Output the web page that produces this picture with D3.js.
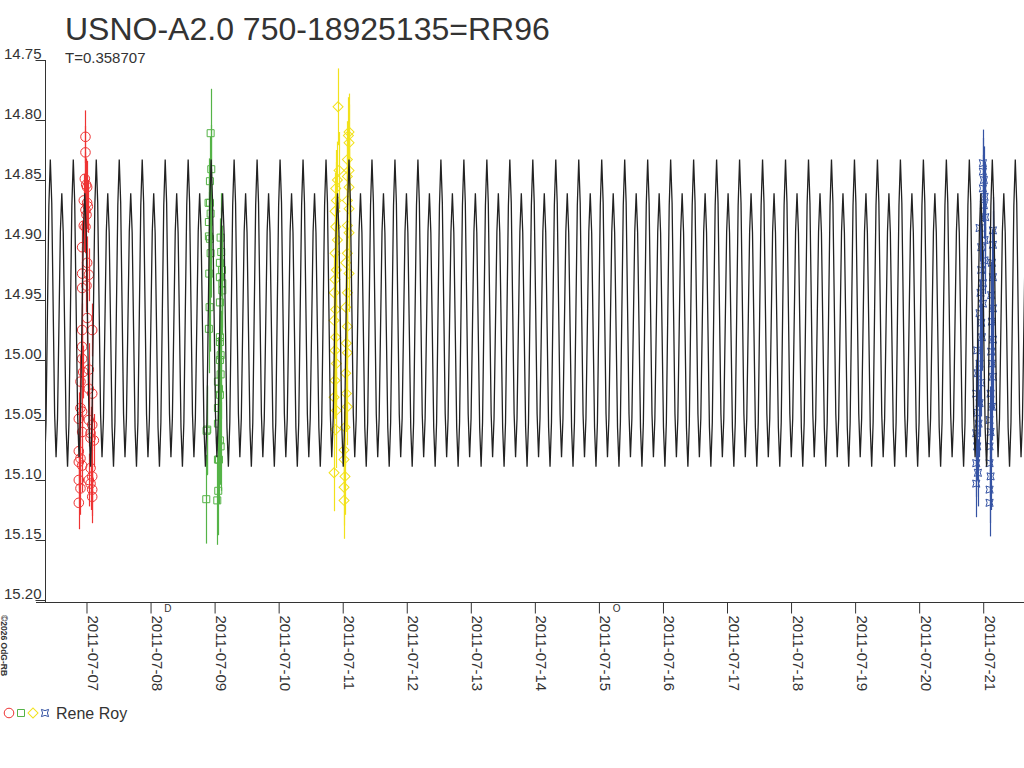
<!DOCTYPE html>
<html>
<head>
<meta charset="utf-8">
<script src="https://cdn.jsdelivr.net/npm/d3@7"></script>
<style>
  body { margin: 0; background: #fff; }
  svg { display: block; }
  text { font-family: "Liberation Sans", Arial, sans-serif; fill: #333; }
</style>
</head>
<body>
<svg id="chart" width="1024" height="768"></svg>
<script>
// ---- data ----
const title = 'USNO-A2.0 750-18925135=RR96';
const period = 0.358707;                 // days
const epochMin = '2011-07-12T02:02:00Z'; // a primary minimum
// one period of the light curve, 16 phase steps
const templateMags = [15.089, 15.052, 14.961, 14.871, 14.833, 14.869, 14.957, 15.045,
                      15.081, 15.049, 14.971, 14.893, 14.861, 14.894, 14.975, 15.056];

const viewStart = '2011-07-06T08:27:00Z';
const viewEnd = '2011-07-21T15:17:00Z';
const dayTicks = ['2011-07-07', '2011-07-08', '2011-07-09', '2011-07-10', '2011-07-11',
                  '2011-07-12', '2011-07-13', '2011-07-14', '2011-07-15', '2011-07-16',
                  '2011-07-17', '2011-07-18', '2011-07-19', '2011-07-20', '2011-07-21'];
const magTicks = [14.75, 14.80, 14.85, 14.90, 14.95, 15.00, 15.05, 15.10, 15.15, 15.20];
const moonDates = ['2011-07-08T06:29:00Z', '2011-07-15T06:40:00Z'];
const moonGlyphs = ['D', 'O'];

// observations, days after 2011-07-07 00:00 UT
const obsBase = '2011-07-07T00:00:00Z';
const redDays = [-0.016, -0.016, -0.026, -0.005, 0.010, -0.042, 0.010, 0.021, -0.016, 0.000,
  -0.042, -0.016, -0.068, 0.010, -0.068, 0.036, -0.068, 0.000, 0.010, 0.089, -0.068, -0.068,
  -0.068, -0.052, 0.036, -0.094, 0.036, 0.089, -0.094, -0.068, -0.120, 0.036, 0.089, -0.068,
  0.063, 0.063, 0.115, -0.120, -0.094, -0.120, -0.068, 0.063, 0.089, 0.036, -0.120, 0.063,
  0.089, -0.094, 0.089, -0.120];
const redMags = [14.814, 14.827, 14.849, 14.854, 14.856, 14.867, 14.869, 14.872, 14.875, 14.879,
  14.888, 14.889, 14.906, 14.919, 14.928, 14.929, 14.940, 14.938, 14.965, 14.975, 14.975, 14.989,
  14.999, 15.010, 15.008, 15.018, 15.024, 15.028, 15.040, 15.043, 15.049, 15.050, 15.054, 15.060,
  15.061, 15.065, 15.067, 15.076, 15.082, 15.085, 15.088, 15.090, 15.097, 15.100, 15.100, 15.103,
  15.108, 15.107, 15.114, 15.119];
const redErr = 0.022;

const greenDays = [1.938, 1.948, 1.927, 1.927, 1.906, 1.938, 1.911, 1.911, 1.927, 1.938, 1.917,
  1.922, 1.911, 1.875, 1.885, 1.870,
  2.094, 2.104, 2.083, 2.115, 2.083, 2.120, 2.120, 2.083, 2.083, 2.083, 2.094, 2.083, 2.094,
  2.052, 2.068, 2.083, 2.052, 2.052, 2.083, 2.094, 2.052, 2.068, 2.057, 2.042];
const greenMags = [14.811, 14.841, 14.851, 14.869, 14.869, 14.878, 14.885, 14.897, 14.899, 14.911,
  14.928, 14.956, 14.974, 15.059, 15.058, 15.116,
  14.898, 14.910, 14.919, 14.925, 14.931, 14.936, 14.942, 14.952, 14.981, 14.985, 14.996, 15.000,
  15.012, 15.018, 15.024, 15.029, 15.040, 15.053, 15.067, 15.072, 15.083, 15.083, 15.109, 15.117];
const greenErr = 0.037;

const yellowDays = [3.927,
  4.099, 4.089, 4.099, 4.073, 4.099, 4.073, 4.099, 4.073, 4.099, 4.073, 4.099, 4.073, 4.047, 4.099,
  4.073, 4.047, 4.073, 4.057, 4.073, 4.047, 4.057, 4.073, 4.036, 4.021, 4.021, 4.036, 4.021, 4.021,
  3.943, 3.917, 3.891, 3.901, 3.880, 3.891, 3.917, 3.880, 3.901, 3.880, 3.865, 3.891, 3.865, 3.891,
  3.880, 3.901, 3.880, 3.865, 3.901, 3.891, 3.865];
const yellowMags = [14.789,
  14.810, 14.813, 14.819, 14.833, 14.842, 14.847, 14.856, 14.867, 14.874, 14.888, 14.894, 14.911,
  14.919, 14.928, 14.944, 14.956, 14.972, 14.986, 14.994, 15.011, 15.028, 15.039, 15.056, 15.075,
  15.083, 15.097, 15.106, 15.117,
  14.842, 14.850, 14.857, 14.867, 14.876, 14.889, 14.900, 14.911, 14.925, 14.933, 14.944, 14.958,
  14.967, 14.981, 14.992, 15.003, 15.017, 15.031, 15.042, 15.058, 15.094];
const yellowErr = 0.032;

const blueDays = [13.995, 13.995, 14.010, 13.995, 14.021, 14.010, 14.031, 13.943, 14.021, 13.969,
  14.021, 13.969, 13.995, 13.958, 13.995, 13.943, 13.969, 13.979, 13.906, 13.943, 13.917, 13.969,
  13.891, 13.943, 13.906, 13.927, 13.891, 13.906, 13.891, 13.917, 13.891,
  14.151, 14.151, 14.135, 14.151, 14.125, 14.151, 14.135, 14.151, 14.125, 14.135, 14.151, 14.115,
  14.135, 14.099, 14.115, 14.099, 14.099, 14.115, 14.099, 14.099];
const blueMags = [14.836, 14.843, 14.850, 14.857, 14.864, 14.871, 14.881, 14.890, 14.900, 14.906,
  14.917, 14.925, 14.936, 14.944, 14.953, 14.961, 14.969, 14.981, 14.992, 15.003, 15.011, 15.019,
  15.028, 15.036, 15.044, 15.053, 15.061, 15.072, 15.086, 15.094, 15.103,
  14.892, 14.904, 14.919, 14.931, 14.946, 14.957, 14.968, 14.983, 14.993, 15.003, 15.014, 15.028,
  15.039, 15.050, 15.060, 15.072, 15.086, 15.097, 15.108, 15.119];
const blueErr = 0.028;

const observer = 'Rene Roy';
const credit = '\u00a92026 OdG-RB';

// ---- drawing ----
const DAY = 86400000;
const svg = d3.select('#chart');

const x = d3.scaleUtc()
  .domain([new Date(viewStart), new Date(viewEnd)])
  .range([45, 1024]);
const y = d3.scaleLinear()
  .domain([14.75, 15.20])
  .range([60, 600]);

const base = Date.parse(obsBase);
const toDate = (d) => new Date(base + d * DAY);

// marker shapes
const circlePath = d3.symbol(d3.symbolCircle, 72)();
const squarePath = d3.symbol(d3.symbolSquare, 49)();
const diamondPath = d3.symbol(d3.symbolSquare, 50)();
const h = 3.6;
const starPath = `M${-h},${-h}Q0,${-h / 3} ${h},${-h}Q${h / 3},0 ${h},${h}` +
  `Q0,${h / 3} ${-h},${h}Q${-h / 3},0 ${-h},${-h}Z`;

const series = [
  {days: redDays, mags: redMags, err: redErr, color: '#ee3333', path: circlePath, rot: 0},
  {days: greenDays, mags: greenMags, err: greenErr, color: '#55b347', path: squarePath, rot: 0},
  {days: yellowDays, mags: yellowMags, err: yellowErr, color: '#f2e21c', path: diamondPath, rot: 45},
  {days: blueDays, mags: blueMags, err: blueErr, color: '#3553a3', path: starPath, rot: 0}
];

// error bars + markers
series.forEach((s) => {
  const pts = s.days.map((d, i) => ({t: toDate(d), m: s.mags[i]}));
  const g = svg.append('g').attr('class', 'obs');

  g.selectAll('line.err')
    .data(pts)
    .enter().append('line')
    .attr('class', 'err')
    .attr('x1', (d) => Math.round(x(d.t)) + 0.5)
    .attr('x2', (d) => Math.round(x(d.t)) + 0.5)
    .attr('y1', (d) => y(d.m - s.err))
    .attr('y2', (d) => y(d.m + s.err))
    .attr('stroke', s.color)
    .attr('stroke-width', 1.2);

  g.selectAll('path.mark')
    .data(pts)
    .enter().append('path')
    .attr('class', 'mark')
    .attr('d', s.path)
    .attr('transform', (d) => `translate(${x(d.t)},${y(d.m)}) rotate(${s.rot})`)
    .attr('fill', 'none')
    .attr('stroke', s.color)
    .attr('stroke-width', 1);
});

// light curve: template repeated with the period
const step = period / templateMags.length * DAY;
const epoch = Date.parse(epochMin);
const i0 = Math.floor((Date.parse(viewStart) - epoch) / step);
const i1 = Math.ceil((Date.parse(viewEnd) - epoch) / step);
const curve = d3.range(i0, i1 + 1).map((i) => {
  const k = ((i % templateMags.length) + templateMags.length) % templateMags.length;
  return {t: new Date(epoch + i * step), m: templateMags[k]};
});

svg.append('defs').append('clipPath').attr('id', 'plot')
  .append('rect').attr('x', 46).attr('y', 0).attr('width', 978).attr('height', 602);

svg.append('path')
  .datum(curve)
  .attr('clip-path', 'url(#plot)')
  .attr('fill', 'none')
  .attr('stroke', '#222')
  .attr('stroke-width', 1.3)
  .attr('d', d3.line().x((d) => x(d.t)).y((d) => y(d.m)));

// y axis
const yAxis = d3.axisLeft(y)
  .tickValues(magTicks)
  .tickSize(10)
  .tickSizeOuter(0)
  .tickFormat(d3.format('.2f'));

const yg = svg.append('g')
  .attr('transform', 'translate(45.5,0)')
  .call(yAxis);
yg.select('.domain').remove();
yg.selectAll('.tick line').attr('stroke', '#333');
yg.selectAll('.tick text')
  .attr('x', -4)
  .attr('dy', '-0.12em')
  .attr('fill', '#333')
  .style('font-size', '15px')
  .style('font-family', '"Liberation Sans", Arial, sans-serif');
svg.append('line')
  .attr('x1', 45.5).attr('x2', 45.5)
  .attr('y1', y(14.75)).attr('y2', 602)
  .attr('stroke', '#333');

// x axis
const fmt = d3.utcFormat('%Y-%m-%d');
const xAxis = d3.axisBottom(x)
  .tickValues(dayTicks.map((d) => new Date(d + 'T00:00:00Z')))
  .tickSize(11)
  .tickSizeOuter(0)
  .tickFormat(fmt);

const xg = svg.append('g')
  .attr('transform', 'translate(0,602.5)')
  .call(xAxis);
xg.select('.domain').remove();
xg.selectAll('.tick line').attr('stroke', '#333');
xg.selectAll('.tick text')
  .attr('transform', 'rotate(90)')
  .attr('x', 13)
  .attr('y', -1)
  .attr('dy', null)
  .attr('text-anchor', 'start')
  .attr('fill', '#333')
  .style('font-size', '15px')
  .style('font-family', '"Liberation Sans", Arial, sans-serif');
svg.append('line')
  .attr('x1', 36).attr('x2', 1024)
  .attr('y1', 602.5).attr('y2', 602.5)
  .attr('stroke', '#333');

// moon phases under the axis
svg.selectAll('text.moon')
  .data(moonDates)
  .enter().append('text')
  .attr('class', 'moon')
  .attr('x', (d) => x(new Date(d)))
  .attr('y', 612)
  .attr('text-anchor', 'middle')
  .style('font-size', '10px')
  .text((d, i) => moonGlyphs[i]);

// titles
svg.append('text')
  .attr('x', 65).attr('y', 40)
  .style('font-size', '32px')
  .text(title);
svg.append('text')
  .attr('x', 65).attr('y', 63)
  .style('font-size', '15px')
  .text('T=' + period);

// credit, vertical
svg.append('text')
  .attr('transform', 'translate(1,615) rotate(90)')
  .style('font-size', '8.5px')
  .style('font-weight', 'bold')
  .text(credit);

// legend
const lg = svg.append('g').attr('class', 'legend');
series.forEach((s, i) => {
  lg.append('path')
    .attr('d', s.path)
    .attr('transform', `translate(${9 + i * 12},713) rotate(${s.rot})`)
    .attr('fill', 'none')
    .attr('stroke', s.color);
});
lg.append('text')
  .attr('x', 56).attr('y', 719)
  .style('font-size', '16px')
  .text(observer);
</script>
</body>
</html>
